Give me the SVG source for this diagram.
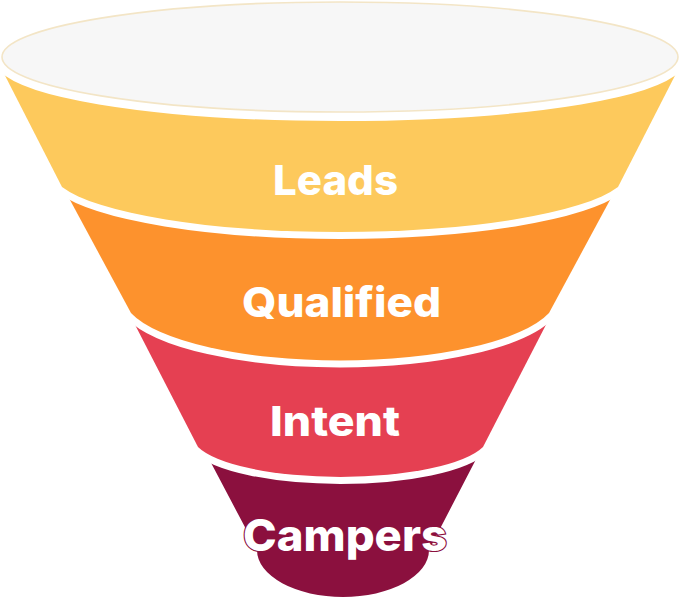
<svg xmlns="http://www.w3.org/2000/svg" width="680" height="600" viewBox="0 0 680 600">
  <style>
    .band { stroke: #ffffff; stroke-width: 14; stroke-linejoin: round; paint-order: stroke; }
    .lbl { font-family: Inter, "Noto Sans", "Liberation Sans", sans-serif; font-weight: 800; fill: #ffffff; font-size: 41px; }
  </style>
  <rect width="680" height="600" fill="#ffffff"/>
  <g id="node-campers">
    <path class="band" fill="#8B103E" d="M 199,440 L 257,550 A 86 47 0 0 0 429,550 L 486,440 Z"/>
    <text class="lbl" x="243" y="551" textLength="204" lengthAdjust="spacingAndGlyphs" stroke="#8B103E" stroke-width="2.2" paint-order="stroke" style="font-size:44px">Campers</text>
  </g>
  <g id="node-intent">
    <path class="band" fill="#E54052" d="M 130,315 L 198,447 A 148 41 0 0 0 483,447 L 551,315 Z"/>
    <text class="lbl" x="270" y="436" textLength="130" lengthAdjust="spacingAndGlyphs">Intent</text>
  </g>
  <g id="node-qualified">
    <path class="band" fill="#FD922D" d="M 63,187 L 131,313 A 217 65 0 0 0 549,313 L 617,187 Z"/>
    <text class="lbl" x="242" y="317" textLength="199" lengthAdjust="spacingAndGlyphs">Qualified</text>
  </g>
  <g id="node-leads">
    <path class="band" fill="#FDC95C" d="M -8,50 L 62,187 A 289 62 0 0 0 618,187 L 688,50 Z"/>
    <text class="lbl" x="273" y="195" textLength="125" lengthAdjust="spacingAndGlyphs">Leads</text>
  </g>
  <g id="node-top">
    <ellipse cx="340" cy="57" rx="339" ry="56" fill="#ffffff" stroke="#ffffff" stroke-width="16"/>
    <ellipse cx="340" cy="57" rx="338" ry="55" fill="#F7F7F7" stroke="#F3E5C6" stroke-width="1.6"/>
  </g>
</svg>
